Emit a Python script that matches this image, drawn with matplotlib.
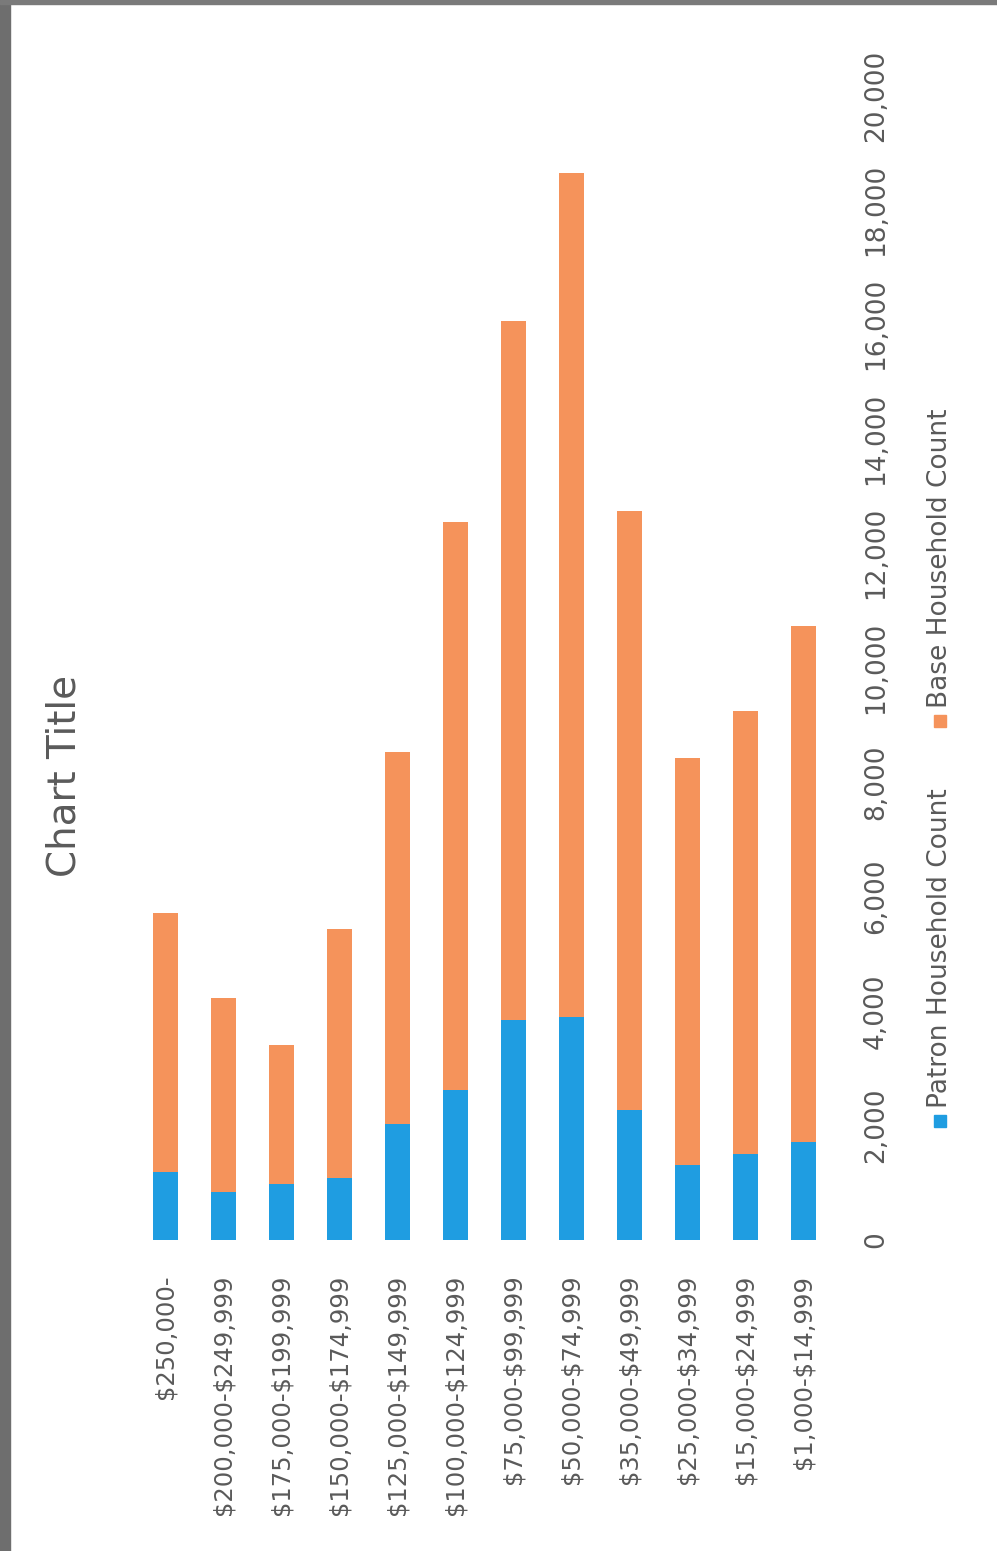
import matplotlib.pyplot as plt
from matplotlib.patches import Rectangle

# household income bands, as listed along the category axis
categories = [
    "$250,000-", "$200,000-$249,999", "$175,000-$199,999", "$150,000-$174,999",
    "$125,000-$149,999", "$100,000-$124,999", "$75,000-$99,999", "$50,000-$74,999",
    "$35,000-$49,999", "$25,000-$34,999", "$15,000-$24,999", "$1,000-$14,999",
]
patron_counts = [1190, 840, 980, 1080, 2030, 2620, 3840, 3900, 2270, 1310, 1500, 1710]
base_counts = [4520, 3390, 2430, 4350, 6490, 9920, 12210, 14740, 10460, 7110, 7740, 9010]
value_ticks = list(range(0, 20001, 2000))

BLUE = "#1f9de1"
ORANGE = "#f5935b"
GREY = "#5a5a5a"

fig = plt.figure(figsize=(9.97, 15.51), dpi=100)
ax = fig.add_axes([0.137, 0.2005, 0.698, 0.738])

x = range(len(categories))
ax.bar(x, patron_counts, width=0.42, color=BLUE)
ax.bar(x, base_counts, width=0.42, bottom=patron_counts, color=ORANGE)

ax.set_xlim(-0.5, len(categories) - 0.5)
ax.set_ylim(0, 20000)
ax.set_xticks(list(x))
# escape the dollar signs so they are not read as mathtext
ax.set_xticklabels([c.replace("$", r"\$") for c in categories], rotation=90,
                   fontsize=17.5, color=GREY)
ax.yaxis.tick_right()
ax.set_yticks(value_ticks)
ax.set_yticklabels([f"{v:,}" for v in value_ticks], rotation=90,
                   fontsize=19, color=GREY, va="center")
ax.tick_params(axis="x", length=0, pad=25)
ax.tick_params(axis="y", length=0, pad=22)
for s in ax.spines.values():
    s.set_visible(False)

# title, rotated like the rest of the page
fig.text(0.065, 0.5, "Chart Title", rotation=90, fontsize=28, color=GREY,
         ha="center", va="center")

# legend drawn by hand so it can be rotated
fig.add_artist(Rectangle((0.937, 1 - 1127 / 1551), 0.012, 12 / 1551,
                         transform=fig.transFigure, color=BLUE))
fig.text(0.943, 1 - 1108 / 1551, "Patron Household Count", rotation=90,
         fontsize=19, color=GREY, ha="center", va="bottom")
fig.add_artist(Rectangle((0.937, 1 - 727 / 1551), 0.012, 12 / 1551,
                         transform=fig.transFigure, color=ORANGE))
fig.text(0.943, 1 - 708 / 1551, "Base Household Count", rotation=90,
         fontsize=19, color=GREY, ha="center", va="bottom")

# dark scan edges on the left and top
fig.add_artist(Rectangle((0, 0), 10 / 997, 1, transform=fig.transFigure,
                         color="#6e6e6e"))
fig.add_artist(Rectangle((0, 1 - 4 / 1551), 1, 4 / 1551,
                         transform=fig.transFigure, color="#7a7a7a"))

fig.savefig("out.png", dpi=100)
